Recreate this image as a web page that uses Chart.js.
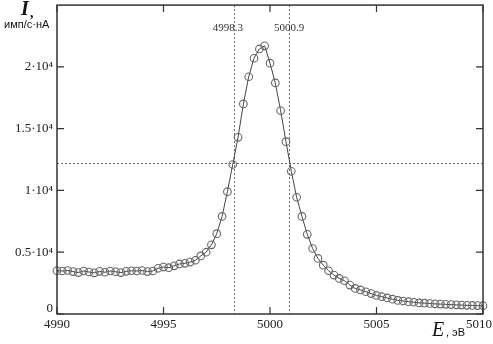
<!DOCTYPE html>
<html>
<head>
<meta charset="utf-8">
<script src="https://cdn.jsdelivr.net/npm/chart.js@4/dist/chart.umd.min.js"></script>
<style>
  html, body { margin: 0; padding: 0; background: #fff; }
  #wrap { width: 493px; height: 344px; }
</style>
</head>
<body>
<div id="wrap"><canvas id="chart" width="493" height="344"></canvas></div>
<script>
// Energy grid, eV
const energies = [
  4990.00, 4990.25, 4990.50, 4990.75, 4991.00, 4991.25, 4991.50, 4991.75,
  4992.00, 4992.25, 4992.50, 4992.75, 4993.00, 4993.25, 4993.50, 4993.75,
  4994.00, 4994.25, 4994.50, 4994.75, 4995.00, 4995.25, 4995.50, 4995.75,
  4996.00, 4996.25, 4996.50, 4996.75, 4997.00, 4997.25, 4997.50, 4997.75,
  4998.00, 4998.25, 4998.50, 4998.75, 4999.00, 4999.25, 4999.50, 4999.75,
  5000.00, 5000.25, 5000.50, 5000.75, 5001.00, 5001.25, 5001.50, 5001.75,
  5002.00, 5002.25, 5002.50, 5002.75, 5003.00, 5003.25, 5003.50, 5003.75,
  5004.00, 5004.25, 5004.50, 5004.75, 5005.00, 5005.25, 5005.50, 5005.75,
  5006.00, 5006.25, 5006.50, 5006.75, 5007.00, 5007.25, 5007.50, 5007.75,
  5008.00, 5008.25, 5008.50, 5008.75, 5009.00, 5009.25, 5009.50, 5009.75,
  5010.00
];

// Intensity, counts/s·nA
const intensity = [
  3500, 3480, 3520, 3430, 3350, 3480, 3400, 3330,
  3450, 3380, 3480, 3420, 3350, 3450, 3500, 3480,
  3520, 3430, 3480, 3700, 3800, 3750, 3900, 4050,
  4100, 4200, 4350, 4700, 5000, 5600, 6500, 7900,
  9900, 12100, 14300, 17000, 19200, 20700, 21450, 21700,
  20300, 18700, 16450, 13950, 11550, 9450, 7900, 6450,
  5300, 4500, 3950, 3500, 3150, 2880, 2690, 2340,
  2070, 1950, 1800, 1650, 1500, 1400, 1300, 1200,
  1100, 1050, 1000, 950, 900, 880, 850, 820,
  800, 780, 760, 740, 720, 700, 690, 680,
  670
];

const xTicks = [4990, 4995, 5000, 5005, 5010];
const xTickLabels = ['4990', '4995', '5000', '5005', '5010'];
const yTicks = [0, 5000, 10000, 15000, 20000];
const yTickLabels = ['0', '0.5·10⁴', '1·10⁴', '1.5·10⁴', '2·10⁴'];

// Marked widths (dotted guides)
const markerEnergies = [4998.3, 5000.9];
const markerLabels = ['4998.3', '5000.9'];
const halfLevel = 12200;

const SERIF = '"Liberation Serif", "DejaVu Serif", serif';
const SANS = '"Liberation Sans", Arial, sans-serif';

// Frame, inward ticks, guides and labels
const decorPlugin = {
  id: 'decor',
  beforeDatasetsDraw(chart) {
    const { ctx, chartArea: a, scales: { x, y } } = chart;
    ctx.save();
    ctx.strokeStyle = '#666';
    ctx.lineWidth = 1;
    ctx.setLineDash([2, 2]);
    markerEnergies.forEach(e => {
      const px = Math.round(x.getPixelForValue(e)) + 0.5;
      ctx.beginPath();
      ctx.moveTo(px, a.top);
      ctx.lineTo(px, a.bottom);
      ctx.stroke();
    });
    const py = Math.round(y.getPixelForValue(halfLevel)) + 0.5;
    ctx.beginPath();
    ctx.moveTo(a.left, py);
    ctx.lineTo(a.right, py);
    ctx.stroke();
    ctx.restore();
  },
  afterDraw(chart) {
    const { ctx, chartArea: a, scales: { x, y } } = chart;
    ctx.save();

    // frame
    ctx.strokeStyle = '#333';
    ctx.lineWidth = 1.5;
    ctx.strokeRect(a.left, a.top, a.right - a.left, a.bottom - a.top);

    // ticks pointing inwards
    ctx.lineWidth = 1.2;
    xTicks.forEach(v => {
      const px = x.getPixelForValue(v);
      ctx.beginPath();
      ctx.moveTo(px, a.bottom); ctx.lineTo(px, a.bottom - 7);
      ctx.moveTo(px, a.top); ctx.lineTo(px, a.top + 7);
      ctx.stroke();
    });
    yTicks.forEach(v => {
      const py = y.getPixelForValue(v);
      ctx.beginPath();
      ctx.moveTo(a.left, py); ctx.lineTo(a.left + 7, py);
      ctx.moveTo(a.right, py); ctx.lineTo(a.right - 7, py);
      ctx.stroke();
    });

    // tick labels
    ctx.fillStyle = '#222';
    ctx.font = '13px ' + SERIF;
    ctx.textBaseline = 'middle';
    xTicks.forEach((v, i) => {
      const w = ctx.measureText(xTickLabels[i]).width;
      let cx = x.getPixelForValue(v);
      cx = Math.min(cx, 493 - w / 2 - 1);
      ctx.textAlign = 'center';
      ctx.fillText(xTickLabels[i], cx, a.bottom + 11);
    });
    ctx.textAlign = 'right';
    yTicks.forEach((v, i) => {
      const py = y.getPixelForValue(v);
      ctx.fillText(yTickLabels[i], a.left - 4, i === 0 ? py - 5 : py);
    });

    // guide labels
    ctx.font = '11px ' + SERIF;
    ctx.fillStyle = '#333';
    ctx.textAlign = 'center';
    markerEnergies.forEach((e, i) => {
      const px = x.getPixelForValue(e);
      ctx.fillText(markerLabels[i], i === 0 ? px - 6 : px, 28);
    });

    // axis titles
    ctx.textAlign = 'left';
    ctx.fillStyle = '#111';
    ctx.font = 'italic bold 20px ' + SERIF;
    ctx.fillText('I', 21, 10);
    ctx.font = 'bold 14px ' + SERIF;
    ctx.fillText(',', 30, 13);
    ctx.font = '11px ' + SANS;
    ctx.fillText('имп/с·нА', 4, 25);

    ctx.font = 'italic 20px ' + SERIF;
    ctx.fillText('E', 432, 331);
    ctx.font = '11px ' + SANS;
    ctx.fillText(', эВ', 446, 333);

    ctx.restore();
  }
};

const points = energies.map((e, i) => ({ x: e, y: intensity[i] }));

new Chart(document.getElementById('chart'), {
  type: 'line',
  data: {
    datasets: [{
      data: points,
      borderColor: '#444',
      borderWidth: 1,
      pointRadius: 3.8,
      pointBorderColor: '#666',
      pointBorderWidth: 1.1,
      pointBackgroundColor: 'rgba(255,255,255,0)',
      tension: 0,
      clip: 6,
    }],
  },
  options: {
    responsive: false,
    animation: false,
    layout: { padding: { left: 57, right: 10, top: 4, bottom: 30 } },
    plugins: {
      legend: { display: false },
      tooltip: { enabled: false },
    },
    scales: {
      x: { type: 'linear', min: 4990, max: 5010, display: false },
      y: { type: 'linear', min: 0, max: 25000, display: false },
    },
  },
  plugins: [decorPlugin],
});
</script>
</body>
</html>
